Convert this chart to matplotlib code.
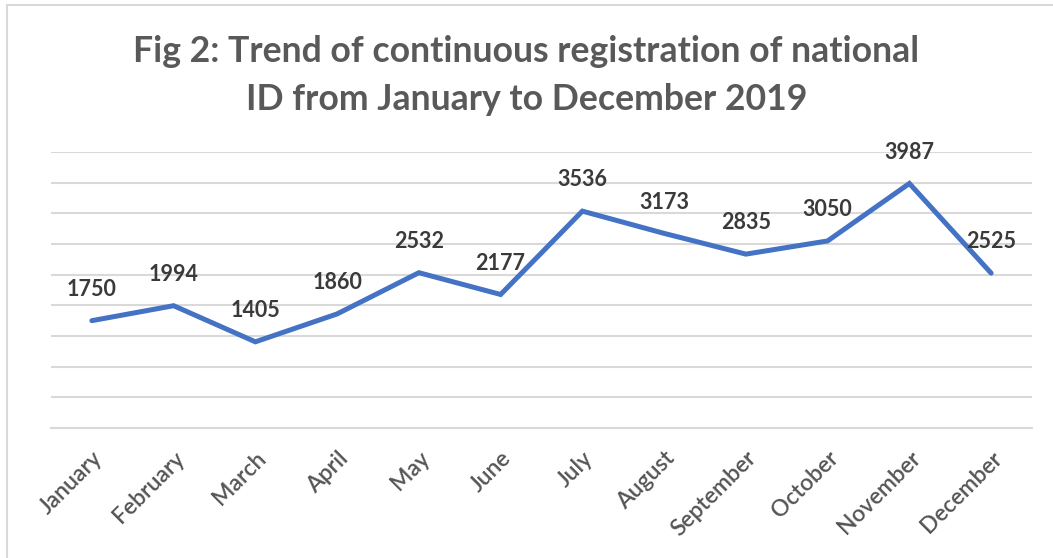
import matplotlib.pyplot as plt
from matplotlib.patches import Rectangle

months = ['January', 'February', 'March', 'April', 'May', 'June', 'July',
          'August', 'September', 'October', 'November', 'December']
registrations = [1750, 1994, 1405, 1860, 2532, 2177, 3536, 3173, 2835, 3050, 3987, 2525]

plt.rcParams['font.family'] = ['Lato', 'DejaVu Sans']

fig = plt.figure(figsize=(10.53, 5.58), dpi=100)
ax = fig.add_axes([51 / 1053, 1 - 428 / 558, (1032 - 51) / 1053, (428 - 152) / 558])

# chart area border (Excel style)
fig.patches.append(Rectangle((7 / 1053, -0.1), 1.2, 1 - 5 / 558 + 0.1,
                             transform=fig.transFigure, fill=False,
                             edgecolor='#D9D9D9', linewidth=1.5))

x = list(range(len(months)))
ax.plot(x, registrations, color='#4472C4', linewidth=3.6, solid_joinstyle='miter',
        solid_capstyle='round', zorder=3)

for xi, v in zip(x, registrations):
    ax.annotate(f'{v}', (xi, v), xytext=(0, 15), textcoords='offset points',
                ha='center', va='bottom', fontsize=15.5, fontweight='bold',
                color='#3a3a3a', zorder=4)

ax.set_xlim(-0.5, len(months) - 0.5)
ax.set_ylim(0, 4500)
ax.set_yticks(range(0, 4501, 500))
ax.yaxis.grid(True, color='#D9D9D9', linewidth=1.5)
ax.set_axisbelow(True)
ax.tick_params(axis='y', left=False, labelleft=False)
ax.tick_params(axis='x', length=0, pad=14)
ax.set_xticks(x)
ax.set_xticklabels(months, rotation=45, ha='right', va='top', rotation_mode='anchor',
                   fontsize=16.5, fontweight='semibold', color='#555555')
for side in ['left', 'right', 'top']:
    ax.spines[side].set_visible(False)
ax.spines['bottom'].set_color('#D9D9D9')
ax.spines['bottom'].set_linewidth(1.5)

fig.text(0.5, 1 - 52 / 558, 'Fig 2: Trend of continuous registration of national',
         ha='center', va='center', fontsize=25.7, fontweight='bold', color='#595959')
fig.text(0.5, 1 - 100 / 558, 'ID from January to December 2019',
         ha='center', va='center', fontsize=25.7, fontweight='bold', color='#595959')

fig.savefig('out.png', dpi=100, facecolor='white')
